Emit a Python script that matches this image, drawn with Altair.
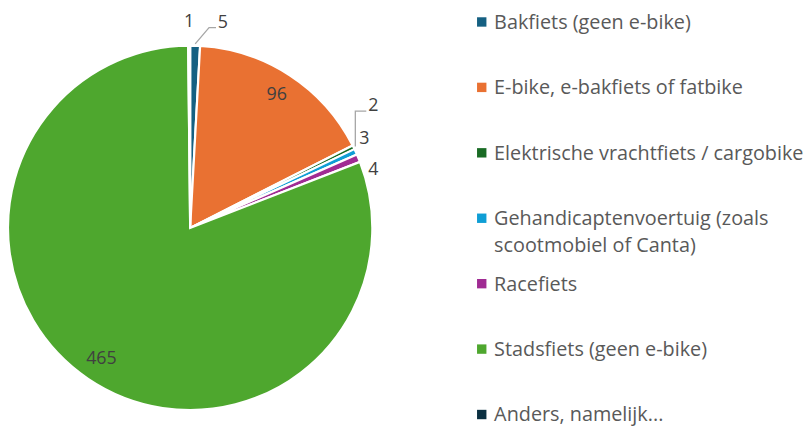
import math
import altair as alt
import pandas as pd

# ---- data ----
categories = [
    "Bakfiets (geen e-bike)",
    "E-bike, e-bakfiets of fatbike",
    "Elektrische vrachtfiets / cargobike",
    "Gehandicaptenvoertuig (zoals\nscootmobiel of Canta)",
    "Racefiets",
    "Stadsfiets (geen e-bike)",
    "Anders, namelijk...",
]
values = [5, 96, 2, 3, 4, 465, 1]
colors = ["#156082", "#E97132", "#196B24", "#0F9ED5", "#A02B93", "#4EA72E", "#0B3041"]

# ---- layout (chart coordinates) ----
CX, CY, R = 184, 220, 184
INNER_LABEL_R = 160
# per-slice label placement for small slices: (angle shift in degrees, radius)
label_place = {
    0: (7.5, 210),
    2: (-7.35, 222),
    3: (-2.3, 197.5),
    4: (5.0, 194),
    6: (0.0, 207.5),
}
leader = {0: 7, 2: 12}  # horizontal leader length for labels with a leader line

total = sum(values)
rows, lab_rows, lead_rows = [], [], []
cum = 0
for i, (c, v) in enumerate(zip(categories, values)):
    mid = (cum + v / 2) / total * 360
    cum += v
    rows.append({"cat": c, "value": v, "idx": i})
    if i in label_place:
        da, r = label_place[i]
    else:
        da, r = 0.0, INNER_LABEL_R
    a = math.radians(mid + da)
    lx = CX + r * math.sin(a)
    ly = CY - r * math.cos(a)
    lab_rows.append({"cat": c, "value": v, "lx": lx, "ly": ly})
    if i in leader:
        am = math.radians(mid)
        sx = CX + 186 * math.sin(am)
        sy = CY - 186 * math.cos(am)
        ex, ey = lx - 7, ly + 5
        if i == 2:
            pts = [(sx, sy), (sx, ey), (ex, ey)]
        else:
            pts = [(sx, sy), (ex - leader[i], ey), (ex, ey)]
        for k, (px, py) in enumerate(pts):
            lead_rows.append({"cat": c, "k": k, "px": px, "py": py})

df = pd.DataFrame(rows)
lab = pd.DataFrame(lab_rows)
lead = pd.DataFrame(lead_rows)

color_scale = alt.Scale(domain=categories, range=colors)

pie = alt.Chart(df).mark_arc(outerRadius=R, stroke="white", strokeWidth=2.2).encode(
    theta=alt.Theta("value:Q", stack=True),
    order=alt.Order("idx:Q"),
    color=alt.Color("cat:N", scale=color_scale, legend=None),
    x=alt.value(CX),
    y=alt.value(CY),
)

labels = alt.Chart(lab).mark_text(
    font="Open Sans", fontSize=18, color="#404040", align="center", baseline="middle"
).encode(
    x=alt.X("lx:Q", scale=None, axis=None),
    y=alt.Y("ly:Q", scale=None, axis=None),
    text=alt.Text("value:Q"),
)

leaders = alt.Chart(lead).mark_line(color="#A6A6A6", strokeWidth=1.3).encode(
    x=alt.X("px:Q", scale=None, axis=None),
    y=alt.Y("py:Q", scale=None, axis=None),
    detail="cat:N",
    order="k:Q",
)

leg_y = alt.Y("cat:N", sort=categories, axis=None,
              scale=alt.Scale(type="point", range=[12, 408.5], padding=0))

leg_sq = alt.Chart(df).mark_square(size=90, opacity=1).encode(
    x=alt.value(478.5),
    y=leg_y,
    color=alt.Color("cat:N", scale=color_scale, legend=None),
)

leg_txt = alt.Chart(df).mark_text(
    font="Open Sans", fontSize=20, color="#595959", align="left",
    baseline="alphabetic", dy=7, lineBreak="\n", lineHeight=27,
).encode(
    x=alt.value(491),
    y=leg_y,
    text="cat:N",
)

chart = alt.layer(pie, leaders, labels, leg_sq, leg_txt).resolve_scale(
    y="independent", x="independent"
).properties(
    width=803, height=419, padding=0, autosize=alt.AutoSizeParams(type="none")
).configure_view(stroke=None)

chart.save("out.html", embed_options={"renderer": "svg", "actions": False})
